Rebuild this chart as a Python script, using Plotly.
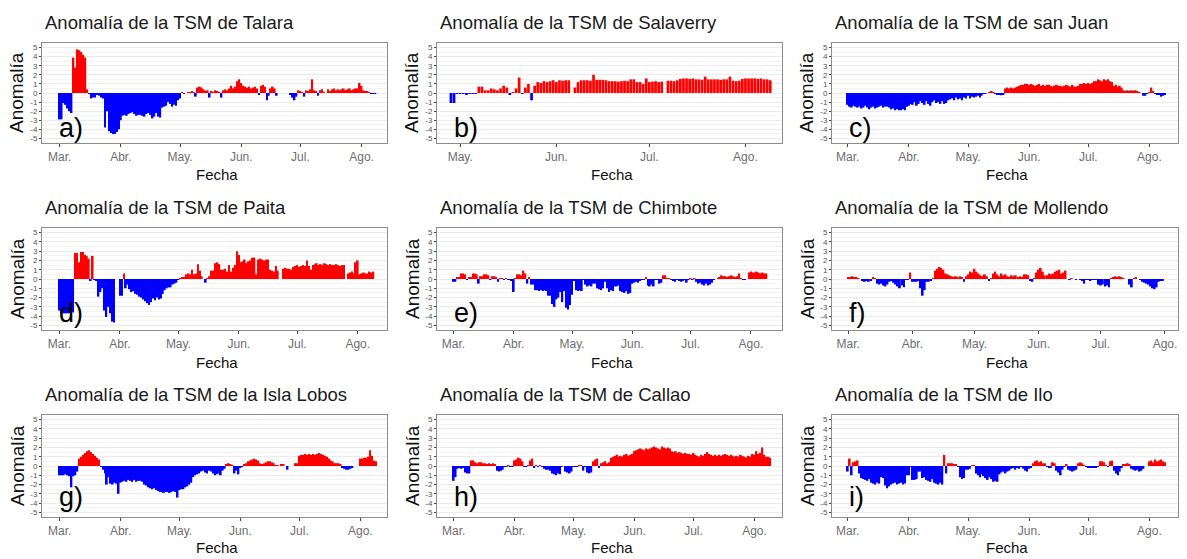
import plotly.graph_objects as go
import pandas as pd

W, H = 1187, 559

month_ticks = ["2017-03-01", "2017-04-01", "2017-05-01", "2017-06-01", "2017-07-01", "2017-08-01"]
month_labels = ["Mar.", "Abr.", "May.", "Jun.", "Jul.", "Ago."]

N = None

talara = [
    -2.9, -2.9, -1.1, -1.3, -1.7, -2.0, -2.2, 3.9, 2.8, 4.8,
    4.7, 4.5, 4.2, 3.9, 0.4, -0.1, -0.6, -0.5, -0.5, -0.2,
    -0.3, -0.5, -0.6, -3.8, -2.0, -4.2, -4.4, -4.5, -4.5, -4.3,
    -4.0, -3.0, -2.5, -2.4, -2.5, -2.3, -2.2, -2.1, -2.3, -2.5,
    -2.4, -2.4, -2.5, -2.6, -2.3, -2.2, -2.4, -2.8, -2.6, -2.2,
    -2.6, -2.7, -1.6, -1.5, -1.4, -1.0, -1.2, -1.5, -1.3, -1.4,
    -0.8, -0.6, 0.05, -0.05, 0.0, 0.1, 0.1, 0.2, 0.1, -0.4,
    0.6, 0.7, 0.6, 0.4, 0.2, 0.3, -0.5, 0.2, 0.1, 0.3,
    0.2, 0.1, -0.5, 0.3, 0.4, 0.3, 0.5, 0.8, 0.5, 0.7,
    1.3, 1.5, 1.1, 0.8, 0.7, 0.6, 0.7, 0.5, 0.6, 0.7,
    0.5, -0.2, 0.8, 0.9, 0.7, -0.8, -0.3, 0.5, 0.7, 0.5,
    -0.3, N, N, N, N, N, N, -0.2, -0.5, -0.8,
    -0.4, 0.3, 0.2, 0.1, -0.4, 0.3, 0.2, 0.4, 1.5, 0.3,
    0.2, -0.3, 0.3, 0.4, 0.1, N, 0.4, 0.2, 0.4, 0.5,
    0.3, 0.4, 0.3, 0.4, 0.5, 0.3, 0.4, 0.5, 0.3, 0.4,
    0.5, 0.5, 1.1, 0.8, 0.3, 0.2, 0.2, 0.1, -0.1, -0.1, -0.1,
]

salaverry = [
    -1.1, -1.1, -0.1, -0.1, -0.1, -0.15, -0.1, -0.1, -0.05, 0.7,
    0.7, 0.3, 0.3, 0.5, 0.4, 0.3, 0.5, 0.8, 0.6, -0.2,
    0.1, 0.5, 1.7, -0.1, 0.6, 1.0, -0.8, 0.8, 1.2, 1.1,
    1.3, 1.2, 1.3, 1.4, 1.2, 1.4, 1.35, 1.4, 1.4, N,
    0.6, 1.2, 1.4, 1.4, 1.4, 1.35, 2.0, 1.45, 1.45, 1.45,
    1.4, 1.3, 1.3, 1.3, 1.25, 1.3, 1.35, 1.3, 1.5, 1.5,
    1.2, 1.2, 1.0, 1.6, 1.2, 1.25, 1.3, 1.2, 1.25, N,
    1.35, 1.35, 1.3, 1.4, 1.55, 1.6, 1.6, 1.55, 1.6, 1.5,
    1.5, 1.45, 1.8, 1.5, 1.5, 1.5, 1.5, 1.45, 1.5, 1.5,
    1.8, 1.35, 1.3, 1.35, 1.55, 1.6, 1.6, 1.6, 1.6, 1.55,
    1.6, 1.5, 1.5, 1.4,
]

san_juan = [
    -1.3, -1.5, -1.6, -1.4, -1.5, -1.6, -1.5, -1.7, -1.6, -1.4,
    -1.6, -1.8, -1.6, -1.5, -1.7, -1.6, -1.5, -1.4, -1.6, -1.5,
    -1.5, -1.6, -1.8, -1.7, -1.9, -1.8, -1.9, -1.9, -1.8, -1.9,
    -1.5, -1.4, -1.2, -1.3, -1.0, -1.4, -1.2, -0.9, -1.1, -1.3,
    -0.9, -1.2, -1.4, -1.0, -0.8, -1.1, -1.0, -1.2, -0.9, -1.2,
    -1.1, -0.8, -0.7, -0.6, -0.8, -0.5, -0.7, -0.6, -0.8, -0.5,
    -0.6, -0.3, -0.6, -0.4, -0.5, -0.4, -0.3, -0.5, -0.3, -0.1,
    -0.1, 0.0, 0.1, 0.15, 0.1, -0.1, -0.2, -0.2, -0.25, -0.2,
    0.5, 0.6, 0.5, 0.6, 0.5, 0.6, 0.7, 0.8, 0.9, 0.9,
    1.0, 1.0, 0.9, 1.0, 0.9, 0.8, 0.9, 1.0, 0.8, 0.9,
    0.8, 0.9, 0.9, 0.8, 0.7, 0.8, 0.9, 0.8, 0.8, 0.7,
    0.8, 0.9, 0.8, 0.7, 0.9, 0.7, 0.7, 0.8, 1.0, 1.0,
    1.1, 1.0, 1.1, 1.0, 1.1, 1.3, 1.3, 1.5, 1.4, 1.3,
    1.5, 1.4, 1.5, 1.3, 1.2, 0.8, 0.9, 0.7, 0.8, 0.6,
    0.3, 0.2, 0.3, 0.2, 0.3, 0.25, 0.3, 0.2, 0.1, 0.0,
    -0.3, -0.3, -0.1, 0.1, 0.6, 0.2, -0.1, -0.2, -0.2, -0.4, -0.3, -0.2,
]

paita = [
    -3.4, -3.7, -3.7, -3.7, -3.7, -3.7, -3.7, -3.6, 2.8, 2.8,
    1.8, 2.9, 2.9, 2.6, 2.5, 2.2, -0.2, 2.5, -0.05, -0.2,
    -1.9, -1.4, -1.0, -3.4, -4.1, -3.0, -3.7, -4.6, -4.7, N,
    N, -1.8, -1.8, 0.6, -1.0, -0.6, -1.1, -1.4, -1.3, -1.6,
    -1.7, -1.9, -2.0, -2.2, -2.4, -2.6, -2.8, -2.5, -2.1, -2.3,
    -2.0, -2.2, -2.1, -1.6, -1.2, -1.0, -0.9, -0.9, -0.6, -0.5,
    -0.4, -0.1, 0.1, 0.2, 0.2, 0.5, 0.6, 0.5, 1.0, 0.5,
    0.6, 1.6, 0.9, 0.3, N, -0.4, 0.1, 0.3, 0.9, 0.9,
    1.7, 1.8, 1.6, 1.0, 1.0, 1.1, 0.8, 1.5, 0.8, 1.2,
    1.5, 3.0, 2.6, 1.8, 1.9, 2.1, 1.7, 1.9, 2.0, 2.3,
    2.3, 0.5, 2.1, 2.2, 2.1, 2.0, 2.1, 2.1, 1.0, 0.9,
    0.8, 1.4, 0.9, N, N, 1.1, 1.2, 1.1, 1.1, 1.0,
    1.3, 1.4, 1.5, 1.3, 1.4, 1.5, 1.4, 2.0, 1.4, 1.0,
    1.5, 1.6, 1.7, 1.5, 1.6, 1.5, 1.7, 1.6, 1.5, 1.6,
    1.5, 1.5, 1.6, 1.5, 1.4, 1.5, 1.5, N, 0.6, 0.7,
    0.8, 0.6, 1.8, 2.0, 0.5, 0.6, 0.7, 0.6, 0.6, 0.8, 0.7, 0.8,
]

chimbote = [
    -0.3, -0.3, 0.2, 0.2, 0.6, 0.6, 0.5, -0.1, 0.2, 0.2,
    0.6, 0.6, 0.5, -0.5, 0.3, 0.3, 0.5, 0.5, 0.4, -0.1,
    0.3, 0.3, 0.2, -0.3, 0.1, 0.1, -0.1, 0.1, -0.1, -0.1,
    -0.2, -1.4, 0.1, 0.5, 0.5, 0.4, 0.9, 0.6, -0.5, 0.2,
    -0.6, -0.6, -1.2, -1.2, -1.3, -1.2, -1.3, -1.2, -1.3, -1.8,
    -1.8, -2.7, -3.0, -2.2, -2.0, -1.4, -2.5, -1.3, -3.1, -3.3,
    -2.8, -1.7, -0.2, -1.2, -1.3, -1.2, -1.3, -0.1, -0.6, -0.8,
    -0.7, -0.8, -0.5, -0.5, -1.0, -1.1, -1.2, -1.0, -0.3, -1.0,
    -1.4, -1.2, -1.3, -0.8, -0.8, -0.7, -1.3, -1.4, -1.5, -1.3,
    -1.6, -1.5, -0.5, -0.4, -0.3, -0.4, -0.2, -0.1, -0.1, 0.2,
    -0.7, -0.8, -0.6, -0.8, -0.1, -0.1, -0.5, -0.4, 0.4, 0.4,
    0.1, 0.1, -0.1, -0.2, -0.3, -0.1, -0.2, -0.3, -0.2, -0.1,
    -0.4, -0.1, 0.1, -0.1, 0.1, -0.3, -0.5, -0.4, -0.6, -0.7,
    -0.5, -0.7, -0.6, -0.4, -0.1, 0.0, 0.1, 0.2, 0.4, 0.3,
    0.3, 0.2, 0.3, 0.4, 0.3, 0.2, 0.3, 0.6, 0.05, -0.05,
    -0.1, 0.0, 0.7, 0.8, 0.7, 0.7, 0.8, 0.7, 0.6, 0.7, 0.6, 0.6,
]

mollendo = [
    0.2, 0.2, 0.3, 0.2, 0.2, 0.1, 0.0, -0.2, -0.3, -0.2,
    -0.3, -0.2, 0.2, 0.1, -0.5, -0.6, -0.5, -0.7, -0.8, -0.6,
    -0.3, -0.2, -0.4, -0.6, -0.8, -1.0, -0.7, -0.9, -0.1, -0.1,
    0.7, -0.3, -0.3, -0.3, -0.2, -1.0, -1.8, -1.2, -0.3, -0.3,
    -0.2, 0.1, 0.9, 1.1, 1.3, 1.2, 1.0, 0.6, 0.5, 0.4,
    0.3, 0.2, 0.3, 0.2, 0.3, 0.2, -0.3, 0.3, 0.5, 0.8,
    0.7, 1.1, 0.8, 0.6, 0.4, 0.3, 0.5, 0.3, -0.2, 0.1,
    0.6, 0.8, 0.5, 0.3, 0.6, 0.4, 0.5, 0.3, 0.2, 0.4,
    0.3, 0.4, 0.2, 0.3, 0.2, 0.5, 0.5, 0.4, -0.2, -0.3,
    0.1, 0.7, 1.0, 1.2, 0.8, 0.4, 0.4, 0.6, 0.5, 0.6,
    0.8, 0.9, 1.0, 0.6, 0.7, 0.9, 0.0, -0.1, 0.1, 0.0,
    -0.1, 0.0, -0.1, -0.2, -0.5, -0.1, -0.1, -0.2, -0.1, -0.1,
    -0.1, -0.6, -0.7, -0.6, -0.8, -0.7, -0.9, 0.1, 0.2, 0.3,
    0.2, 0.3, 0.2, 0.1, 0.0, 0.0, -0.6, -0.9, 0.1, 0.2,
    0.0, -0.1, -0.3, -0.4, -0.5, -0.6, -0.8, -1.0, -1.1, -0.9,
    -0.3, -0.2, -0.2,
]

isla_lobos = [
    -1.0, -1.0, -1.0, -0.9, -1.0, -1.1, -2.3, -1.1, -1.0, -0.6,
    0.8, 1.0, 1.2, 1.4, 1.6, 1.7, 1.5, 1.3, 1.1, 0.9,
    0.7, -0.1, -0.4, -0.8, -2.0, -1.2, -1.9, -2.0, -1.8, -1.9,
    -3.0, -1.8, -1.7, -1.6, -1.7, -1.5, -1.6, -1.7, -1.5, -1.7,
    -1.6, -1.6, -1.7, -2.0, -2.1, -2.3, -2.4, -2.5, -2.4, -2.6,
    -2.7, -2.8, -2.8, -2.9, -2.8, -2.8, -2.9, -2.8, -2.7, -2.8,
    -3.4, -2.6, -2.5, -2.5, -2.3, -2.2, -2.0, -1.8, -1.2, -1.0,
    -0.9, -0.8, -0.6, -0.5, -0.7, -0.8, -0.5, -0.6, -0.8, -1.0,
    -0.9, -0.8, -1.0, -0.5, -0.3, 0.2, 0.3, 0.2, 0.1, -0.8,
    -0.5, -0.9, -0.2, -0.1, 0.2, 0.3, 0.5, 0.6, 0.7, 0.8,
    0.7, 0.6, 0.3, 0.2, 0.3, 0.4, 0.5, 0.5, 0.4, 0.3,
    0.1, 0.1, 0.0, 0.2, 0.2, 0.0, -0.4, 0.0, 0.0, 0.0,
    0.3, 0.3, 1.1, 1.2, 1.2, 1.3, 1.2, 1.3, 1.2, 1.3,
    1.2, 1.3, 1.4, 1.3, 1.2, 1.1, 1.0, 0.8, 0.6, 0.5,
    0.3, 0.3, 0.3, 0.2, -0.2, -0.3, -0.4, -0.4, -0.3, -0.2,
    0.0, 0.0, 0.0, 0.8, 0.8, 0.9, 0.9, 1.0, 1.7, 1.1, 0.6, 0.5,
]

callao = [
    -1.6, -1.2, -0.3, -0.2, -0.3, -0.2, -0.7, -0.8, -0.8, 0.6,
    0.6, 0.4, 0.3, 0.4, 0.4, 0.3, 0.3, 0.2, 0.3, 0.2,
    0.3, 0.2, -0.5, -0.6, -0.5, -0.4, -0.1, -0.1, 0.05, -0.1,
    -0.1, 0.6, 0.7, 0.9, 0.8, 0.5, -0.1, -0.1, 0.1, 0.6,
    0.8, -0.2, 0.1, -0.1, 0.05, -0.1, -0.3, -0.4, -0.4, -0.5,
    -0.8, -0.9, -1.0, -0.8, -0.9, -0.1, 0.0, -0.6, -0.7, -0.8,
    -0.6, -0.1, -0.05, -0.1, 0.1, 0.1, -0.5, -0.1, -0.7, -0.8,
    -0.7, 0.5, 0.7, 0.8, -0.2, 0.3, 0.4, 0.5, 0.3, 0.4,
    0.9, 1.0, 1.1, 1.2, 1.0, 1.1, 1.0, 1.2, 1.3, 1.1,
    1.2, 1.3, 1.6, 1.7, 1.8, 1.9, 1.8, 1.7, 1.9, 1.8,
    1.9, 2.0, 2.1, 2.0, 1.9, 1.8, 2.1, 2.0, 1.9, 2.0,
    1.9, 1.6, 1.5, 1.6, 1.4, 1.5, 1.4, 1.3, 1.4, 1.3,
    1.3, 1.2, 1.4, 1.2, 1.1, 1.0, 1.2, 1.1, 1.3, 1.5,
    1.3, 1.2, 1.1, 1.2, 1.1, 1.2, 1.1, 1.2, 1.3, 1.2,
    1.1, 1.2, 1.1, 1.0, 1.1, 1.0, 1.2, 1.1, 1.0, 0.9,
    1.1, 1.0, 1.3, 1.2, 1.6, 1.3, 1.4, 2.0, 1.2, 1.0, 1.0, 0.9,
]

ilo = [
    -0.6, 0.8, -1.0, 0.4, 0.5, 0.6, -0.8, -1.3, -1.4, -1.5,
    -1.6, -1.4, -1.8, -1.9, -2.0, -1.8, -1.9, -1.2, -1.3, -2.1,
    -2.4, -2.2, -2.0, -1.9, -1.8, -2.0, -1.9, -1.8, -2.0, -1.9,
    -1.0, -1.0, -0.1, -1.5, -1.5, -1.4, -0.6, -0.6, -1.3, -1.2,
    -1.5, -1.6, -1.7, -1.4, -1.8, -1.9, -2.0, -1.8, -2.0, 1.2,
    -0.8, 0.3, 0.3, 0.3, 0.2, 0.2, -0.05, -1.2, -1.4, -1.3,
    -0.4, -0.4, -0.3, 0.1, 0.1, -0.8, -1.0, -1.2, -0.9, -1.1,
    -1.3, -1.5, -1.2, -1.4, -1.7, -1.6, -1.7, -0.9, -0.7, -0.6,
    -0.8, -0.6, -0.5, -0.3, -0.2, -0.4, -0.2, -0.3, -0.1, -0.3,
    -0.5, -0.6, -0.3, -0.2, 0.3, 0.5, 0.6, 0.4, 0.5, 0.3,
    0.3, -0.1, -0.2, -0.2, 0.4, 0.3, -0.5, -0.7, -1.0, -0.4,
    -0.1, 0.2, -0.4, -0.5, -0.6, -0.5, -0.4, 0.3, 0.4, 0.3,
    0.1, -0.1, -0.2, -0.2, -0.2, -0.2, -0.2, -0.1, 0.5, 0.5,
    0.4, 0.1, -0.1, 0.5, 0.6, -0.5, -0.8, -1.0, -0.6, -0.2,
    0.2, 0.2, 0.3, 0.2, -0.3, -0.4, -0.5, -0.4, -0.6, -0.5,
    -0.3, 0.0, 0.0, 0.5, 0.6, 0.4, 0.7, 0.5, 0.6, 0.7, 0.5, 0.4,
]

titles = ["Talara", "Salaverry", "san Juan", "Paita", "Chimbote", "Mollendo",
          "la Isla Lobos", "Callao", "Ilo"]
letters = ["a)", "b)", "c)", "d)", "e)", "f)", "g)", "h)", "i)"]
series = [talara, salaverry, san_juan, paita, chimbote, mollendo, isla_lobos, callao, ilo]
starts = ["2017-03-01", "2017-04-28", "2017-03-01", "2017-03-01", "2017-03-01",
          "2017-03-01", "2017-03-01", "2017-03-01", "2017-03-01"]
xranges = [
    ["2017-02-20 01:00", "2017-08-13 21:00"],
    ["2017-04-23 12:00", "2017-08-12 19:00"],
    ["2017-02-21 00:00", "2017-08-15 12:00"],
    ["2017-02-20 00:00", "2017-08-16 00:00"],
    ["2017-02-20 12:00", "2017-08-17 00:00"],
    ["2017-02-21 05:00", "2017-08-07 07:00"],
    ["2017-02-20 00:00", "2017-08-14 14:00"],
    ["2017-02-20 12:00", "2017-08-15 00:00"],
    ["2017-02-21 00:00", "2017-08-15 12:00"],
]

# layout geometry (pixels)
cols = [(42, 387), (437, 782), (832, 1178)]
rows = [(43, 143), (228, 330), (415, 517)]
label_y = [128, 313, 497]
fecha_off = [32, 32, 30]

def fx(p):
    return p / W

def fy(p):
    return 1 - p / H

FONT = "Liberation Sans, Arial, sans-serif"

fig = go.Figure()
annotations = []
layout = {}

for i in range(9):
    r, c = divmod(i, 3)
    vals = series[i]
    dates = pd.date_range(starts[i], periods=len(vals), freq="D")
    colors = ["#0000FF" if (v is not None and v < 0) else "#FF0000" for v in vals]
    ax = "" if i == 0 else str(i + 1)
    fig.add_trace(go.Bar(
        x=dates, y=vals, marker=dict(color=colors, line=dict(width=0)),
        xaxis="x" + ax, yaxis="y" + ax, showlegend=False,
    ))
    x0, x1 = cols[c]
    y0, y1 = rows[r]
    if i == 1:
        tv, tt = month_ticks[2:], month_labels[2:]
    else:
        tv, tt = month_ticks, month_labels
    layout["xaxis" + ax] = dict(
        domain=[fx(x0), fx(x1)], anchor="y" + ax, type="date",
        range=xranges[i], tickvals=tv, ticktext=tt,
        ticks="outside", ticklen=3, tickcolor="#444", tickwidth=1,
        tickfont=dict(family=FONT, size=12, color="#6e6e6e"),
        showline=True, linecolor="#8c8c8c", linewidth=1, mirror=True,
        showgrid=False, zeroline=False, fixedrange=True,
    )
    layout["yaxis" + ax] = dict(
        domain=[fy(y1), fy(y0)], anchor="x" + ax,
        range=[-5.5, 5.5], tickvals=list(range(-5, 6)),
        ticktext=[str(v) for v in range(-5, 6)],
        ticks="outside", ticklen=2, tickcolor="#444",
        tickfont=dict(family=FONT, size=8, color="#555"),
        showline=True, linecolor="#8c8c8c", linewidth=1, mirror=True,
        showgrid=True, gridcolor="#ececec", gridwidth=1,
        minor=dict(dtick=0.5, showgrid=True, gridcolor="#f4f4f4"),
        zeroline=False, fixedrange=True,
    )
    annotations.append(dict(
        text="Anomalía de la TSM de " + titles[i], xref="paper", yref="paper",
        x=fx(x0 + 1), y=fy(y0 - 21), xanchor="left", yanchor="middle",
        showarrow=False, font=dict(family=FONT, size=18.5, color="#1a1a1a"),
    ))
    annotations.append(dict(
        text="Fecha", xref="paper", yref="paper",
        x=fx((x0 + x1) / 2 + 2), y=fy(y1 + fecha_off[r]), xanchor="center", yanchor="middle",
        showarrow=False, font=dict(family=FONT, size=15, color="#111"),
    ))
    annotations.append(dict(
        text="Anomalía", xref="paper", yref="paper", textangle=-90,
        x=fx(x0 - 25), y=fy((y0 + y1) / 2), xanchor="center", yanchor="middle",
        showarrow=False, font=dict(family=FONT, size=19, color="#111"),
    ))
    annotations.append(dict(
        text=letters[i], xref="paper", yref="paper",
        x=fx(x0 + 15), y=fy(label_y[r]), xanchor="left", yanchor="middle",
        showarrow=False, font=dict(family=FONT, size=27, color="#000"),
    ))

fig.update_layout(
    width=W, height=H, margin=dict(l=0, r=0, t=0, b=0),
    paper_bgcolor="white", plot_bgcolor="white",
    bargap=0.12, annotations=annotations, **layout,
)

fig.write_html(
    "out.html",
    config={"displayModeBar": False},
    post_script="document.body.style.margin='0';document.body.style.overflow='hidden';",
)
